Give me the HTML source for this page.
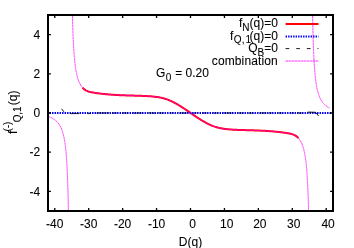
<!DOCTYPE html>
<html><head><meta charset="utf-8"><title>plot</title>
<style>
html,body{margin:0;padding:0;background:#fff;}
svg{display:block}
text{font-family:"Liberation Sans",sans-serif;font-size:12px;fill:#000;stroke:#000;stroke-width:0.08px;}
</style></head><body>
<svg width="354" height="248" viewBox="0 0 354 248">
<rect width="354" height="248" fill="#fff"/>
<defs><clipPath id="c"><rect x="48" y="15" width="285" height="196"/></clipPath><filter id="tf" x="0" y="0" width="354" height="248" filterUnits="userSpaceOnUse"><feGaussianBlur stdDeviation="0.25"/></filter></defs>
<g clip-path="url(#c)" fill="none">
<path d="M82.60,87.69 L83.32,88.44 L84.05,89.10 L84.77,89.66 L85.49,90.14 L86.21,90.55 L86.93,90.90 L87.65,91.20 L88.38,91.45 L89.10,91.68 L89.82,91.87 L90.54,92.05 L91.26,92.21 L91.98,92.35 L92.71,92.48 L93.43,92.61 L94.15,92.72 L94.87,92.84 L95.59,92.94 L96.32,93.05 L97.04,93.15 L97.76,93.25 L98.48,93.35 L99.20,93.45 L99.92,93.54 L100.65,93.63 L101.37,93.71 L102.09,93.79 L102.81,93.88 L103.53,93.95 L104.25,94.03 L104.98,94.10 L105.70,94.17 L106.42,94.24 L107.14,94.31 L107.86,94.37 L108.58,94.43 L109.31,94.49 L110.03,94.55 L110.75,94.60 L111.47,94.66 L112.19,94.71 L112.91,94.76 L113.64,94.81 L114.36,94.85 L115.08,94.90 L115.80,94.94 L116.52,94.98 L117.25,95.02 L117.97,95.06 L118.69,95.09 L119.41,95.13 L120.13,95.16 L120.85,95.19 L121.58,95.23 L122.30,95.26 L123.02,95.28 L123.74,95.31 L124.46,95.34 L125.18,95.36 L125.91,95.39 L126.63,95.41 L127.35,95.44 L128.07,95.46 L128.79,95.48 L129.51,95.50 L130.24,95.52 L130.96,95.55 L131.68,95.57 L132.40,95.58 L133.12,95.60 L133.84,95.62 L134.57,95.64 L135.29,95.66 L136.01,95.68 L136.73,95.70 L137.45,95.72 L138.18,95.74 L138.90,95.76 L139.62,95.78 L140.34,95.81 L141.06,95.83 L141.78,95.86 L142.51,95.89 L143.23,95.91 L143.95,95.94 L144.67,95.98 L145.39,96.01 L146.11,96.05 L146.84,96.09 L147.56,96.13 L148.28,96.17 L149.00,96.22 L149.72,96.26 L150.44,96.32 L151.17,96.37 L151.89,96.43 L152.61,96.50 L153.33,96.57 L154.05,96.64 L154.77,96.72 L155.50,96.81 L156.22,96.90 L156.94,97.00 L157.66,97.11 L158.38,97.23 L159.11,97.35 L159.83,97.49 L160.55,97.63 L161.27,97.79 L161.99,97.95 L162.71,98.12 L163.44,98.31 L164.16,98.51 L164.88,98.72 L165.60,98.94 L166.32,99.17 L167.04,99.42 L167.77,99.68 L168.49,99.96 L169.21,100.25 L169.93,100.55 L170.65,100.86 L171.37,101.19 L172.10,101.53 L172.82,101.89 L173.54,102.25 L174.26,102.62 L174.98,103.01 L175.70,103.40 L176.43,103.81 L177.15,104.22 L177.87,104.64 L178.59,105.07 L179.31,105.51 L180.04,105.95 L180.76,106.40 L181.48,106.86 L182.20,107.32 L182.92,107.79 L183.64,108.26 L184.37,108.74 L185.09,109.22 L185.81,109.70 L186.53,110.19 L187.25,110.68 L187.97,111.17 L188.70,111.66 L189.42,112.16 L190.14,112.65 L190.86,113.15 L191.58,113.64 L192.30,114.14 L193.03,114.63 L193.75,115.12 L194.47,115.61 L195.19,116.10 L195.91,116.58 L196.63,117.06 L197.36,117.54 L198.08,118.01 L198.80,118.48 L199.52,118.94 L200.24,119.40 L200.96,119.85 L201.69,120.29 L202.41,120.73 L203.13,121.16 L203.85,121.58 L204.57,121.99 L205.30,122.40 L206.02,122.79 L206.74,123.18 L207.46,123.55 L208.18,123.91 L208.90,124.27 L209.63,124.61 L210.35,124.94 L211.07,125.25 L211.79,125.55 L212.51,125.84 L213.23,126.12 L213.96,126.38 L214.68,126.63 L215.40,126.86 L216.12,127.08 L216.84,127.29 L217.56,127.49 L218.29,127.68 L219.01,127.85 L219.73,128.01 L220.45,128.17 L221.17,128.31 L221.89,128.45 L222.62,128.57 L223.34,128.69 L224.06,128.80 L224.78,128.90 L225.50,128.99 L226.23,129.08 L226.95,129.16 L227.67,129.23 L228.39,129.30 L229.11,129.37 L229.83,129.43 L230.56,129.48 L231.28,129.54 L232.00,129.58 L232.72,129.63 L233.44,129.67 L234.16,129.71 L234.89,129.75 L235.61,129.79 L236.33,129.82 L237.05,129.86 L237.77,129.89 L238.49,129.91 L239.22,129.94 L239.94,129.97 L240.66,129.99 L241.38,130.02 L242.10,130.04 L242.82,130.06 L243.55,130.08 L244.27,130.10 L244.99,130.12 L245.71,130.14 L246.43,130.16 L247.16,130.18 L247.88,130.20 L248.60,130.22 L249.32,130.23 L250.04,130.25 L250.76,130.28 L251.49,130.30 L252.21,130.32 L252.93,130.34 L253.65,130.36 L254.37,130.39 L255.09,130.41 L255.82,130.44 L256.54,130.46 L257.26,130.49 L257.98,130.52 L258.70,130.54 L259.42,130.57 L260.15,130.61 L260.87,130.64 L261.59,130.67 L262.31,130.71 L263.03,130.74 L263.75,130.78 L264.48,130.82 L265.20,130.86 L265.92,130.90 L266.64,130.95 L267.36,130.99 L268.09,131.04 L268.81,131.09 L269.53,131.14 L270.25,131.20 L270.97,131.25 L271.69,131.31 L272.42,131.37 L273.14,131.43 L273.86,131.49 L274.58,131.56 L275.30,131.63 L276.02,131.70 L276.75,131.77 L277.47,131.85 L278.19,131.92 L278.91,132.01 L279.63,132.09 L280.35,132.17 L281.08,132.26 L281.80,132.35 L282.52,132.45 L283.24,132.55 L283.96,132.65 L284.68,132.75 L285.41,132.86 L286.13,132.96 L286.85,133.08 L287.57,133.19 L288.29,133.32 L289.02,133.45 L289.74,133.59 L290.46,133.75 L291.18,133.93 L291.90,134.12 L292.62,134.35 L293.35,134.60 L294.07,134.90 L294.79,135.25 L295.51,135.66 L296.23,136.14 L296.95,136.70 L297.68,137.36 L298.40,138.11" stroke="#ff0000" stroke-width="2.0" stroke-linejoin="round"/>
<path d="M48,113 H333" stroke="#0000ff" stroke-width="2" stroke-dasharray="1.5 1" stroke-dashoffset="-1.55"/>
<path d="M96.4,113 H109M112,113 H117M122.4,113 H128M132.8,113 H142.7M148.4,113 H155.4M158.6,113 H163.7M170,113 H173.5M179.5,113 H187.2M193.5,113 H196.7M202.4,113 H206.8M213.2,113 H218.3M223.3,113 H232.9M238.6,113 H243.7M248.8,113 H253.5M259.5,113 H266.5M269,113 H272.2M278.6,113 H282.4M290.7,113 H293.8M297,113 H302.6" stroke="#000" stroke-width="1.6" stroke-opacity="0.5"/>
<path d="M70.2,113.6 H79.1 M87.4,113.6 H90.5" stroke="#000" stroke-width="0.9" stroke-opacity="0.9"/>
<path d="M61.6,108.8 L63.9,111.8" stroke="#000" stroke-width="0.9"/>
<path d="M307.7,112.1 L315.6,112.3 L318.6,116" stroke="#000" stroke-width="0.9"/>
<path d="M72.19,3.80 L72.21,4.87 L72.23,5.92 L72.25,6.95 L72.27,7.96 L72.29,8.95 L72.31,9.91 L72.33,10.86 L72.35,11.79 L72.37,12.70 L72.40,13.59 L72.42,14.47 L72.44,15.33 L72.46,16.17 L72.48,17.00 L72.50,17.81 L72.52,18.61 L72.54,19.39 L72.56,20.16 L72.58,20.91 L72.60,21.65 L72.62,22.38 L72.64,23.09 L72.67,23.80 L72.69,24.49 L72.71,25.17 L72.73,25.83 L72.75,26.49 L72.77,27.14 L72.79,27.77 L72.81,28.40 L72.83,29.01 L72.85,29.61 L72.87,30.21 L72.89,30.79 L72.91,31.37 L72.93,31.94 L72.96,32.50 L72.98,33.05 L73.00,33.59 L73.02,34.12 L73.04,34.65 L73.06,35.16 L73.08,35.67 L73.10,36.18 L73.12,36.67 L73.14,37.16 L73.16,37.64 L73.18,38.12 L73.20,38.58 L73.22,39.04 L73.25,39.50 L73.27,39.95 L73.29,40.39 L73.31,40.82 L73.33,41.25 L73.35,41.68 L73.37,42.10 L73.39,42.51 L73.41,42.92 L73.43,43.32 L73.45,43.72 L73.47,44.11 L73.49,44.49 L73.51,44.88 L73.54,45.25 L73.56,45.62 L73.58,45.99 L73.60,46.35 L73.62,46.71 L73.64,47.07 L73.66,47.41 L73.68,47.76 L73.70,48.10 L73.72,48.44 L73.74,48.77 L73.76,49.10 L73.78,49.42 L73.81,49.75 L73.83,50.06 L73.85,50.38 L73.87,50.69 L73.89,50.99 L73.91,51.30 L73.93,51.59 L73.95,51.89 L73.97,52.18 L73.99,52.47 L74.01,52.76 L74.03,53.04 L74.05,53.32 L74.07,53.60 L74.10,53.87 L74.12,54.14 L74.14,54.41 L74.16,54.68 L74.18,54.94 L74.20,55.20 L74.22,55.45 L74.24,55.71 L74.26,55.96 L74.28,56.21 L74.30,56.45 L74.32,56.70 L74.34,56.94 L74.36,57.18 L74.39,57.41 L74.41,57.65 L74.43,57.88 L74.45,58.11 L74.47,58.33 L74.49,58.56 L74.51,58.78 L74.53,59.00 L74.55,59.22 L74.57,59.43 L74.59,59.65 L74.61,59.86 L74.63,60.07 L74.65,60.28 L74.68,60.48 L74.70,60.69 L74.72,60.89 L74.74,61.09 L74.76,61.28 L74.78,61.48 L74.80,61.68 L74.82,61.87 L74.84,62.06 L74.86,62.25 L74.88,62.43 L74.90,62.62 L74.92,62.80 L74.95,62.99 L74.97,63.17 L74.99,63.35 L75.01,63.52 L75.03,63.70 L75.05,63.87 L75.07,64.05 L75.09,64.22 L75.11,64.39 L75.13,64.56 L75.15,64.72 L75.17,64.89 L75.19,65.05 L75.21,65.21 L75.24,65.38 L75.26,65.53 L75.28,65.69 L75.30,65.85 L75.32,66.01 L75.34,66.16 L75.36,66.31 L75.38,66.47 L75.40,66.62 L75.42,66.77 L75.44,66.91 L75.46,67.06 L75.48,67.21 L75.50,67.35 L75.53,67.50 L75.55,67.64 L75.57,67.78 L75.59,67.92 L75.61,68.06 L75.63,68.20 L75.65,68.33 L75.67,68.47 L75.69,68.60 L75.71,68.74 L75.73,68.87 L75.75,69.00 L75.77,69.13 L75.79,69.26 L75.82,69.39 L75.84,69.52 L75.86,69.64 L75.88,69.77 L75.90,69.89 L75.92,70.02 L75.94,70.14 L75.96,70.26 L75.98,70.38 L76.00,70.50 L76.02,70.62 L76.04,70.74 L76.06,70.86 L76.09,70.98 L76.11,71.09 L76.13,71.21 L76.15,71.32 L76.17,71.43 L76.19,71.55 L76.21,71.66 L76.23,71.77 L76.25,71.88 L76.27,71.99 L76.29,72.10 L76.31,72.21 L76.33,72.31 L76.35,72.42 L76.38,72.52 L76.40,72.63 L76.42,72.73 L76.44,72.84 L76.46,72.94 L76.48,73.04 L76.50,73.14 L76.52,73.24 L76.54,73.34 L76.56,73.44 L76.58,73.54 L76.60,73.64 L76.62,73.73 L76.64,73.83 L76.67,73.93 L76.69,74.02 L76.71,74.12 L76.73,74.21 L76.75,74.30 L76.77,74.40 L76.79,74.49 L76.81,74.58 L76.83,74.67 L76.85,74.76 L76.87,74.85 L76.89,74.94 L76.91,75.03 L76.93,75.12 L76.96,75.20 L76.98,75.29 L77.00,75.38 L77.02,75.46 L77.04,75.55 L77.06,75.63 L77.08,75.72 L77.10,75.80 L77.12,75.88 L77.14,75.97 L77.16,76.05 L77.18,76.13 L77.20,76.21 L77.23,76.29 L77.25,76.37 L77.27,76.45 L77.29,76.53 L77.31,76.61 L77.33,76.69 L77.35,76.77 L77.37,76.84 L77.39,76.92 L77.41,77.00 L77.43,77.07 L77.45,77.15 L77.47,77.22 L77.49,77.30 L77.52,77.37 L77.54,77.44 L77.56,77.52 L77.58,77.59 L77.60,77.66 L77.62,77.73 L77.64,77.80 L77.66,77.88 L77.68,77.95 L77.70,78.02 L77.72,78.09 L77.74,78.15 L77.76,78.22 L77.78,78.29 L77.81,78.36 L77.83,78.43 L77.85,78.50 L77.87,78.56 L77.89,78.63 L77.91,78.70 L77.93,78.76 L77.95,78.83 L77.97,78.89 L77.99,78.96 L78.01,79.02 L78.03,79.08 L78.05,79.15 L78.07,79.21 L78.10,79.27 L78.12,79.34 L78.14,79.40 L78.16,79.46 L78.18,79.52 L78.20,79.58 L78.22,79.64 L78.24,79.71 L78.26,79.77 L78.28,79.83 L78.30,79.88 L78.32,79.94 L78.34,80.00 L78.37,80.06 L78.39,80.12 L78.41,80.18 L78.43,80.24 L78.45,80.29 L78.47,80.35 L78.49,80.41 L78.51,80.46 L78.53,80.52 L78.53,80.52 L79.28,82.36 L80.03,83.91 L80.78,85.22 L81.53,86.34 L82.28,87.31 L83.02,88.14 L83.77,88.86 L84.52,89.48 L85.27,90.00 L86.02,90.45 L86.77,90.82 L87.52,91.14 L88.27,91.42 L89.02,91.65 L89.77,91.86 L90.51,92.04 L91.26,92.21 L92.01,92.36 L92.76,92.49 L93.51,92.62 L94.26,92.74 L95.01,92.86 L95.76,92.97 L96.51,93.08 L97.25,93.18 L98.00,93.29 L98.75,93.39 L99.50,93.48 L100.25,93.58 L101.00,93.67 L101.75,93.76 L102.50,93.84 L103.25,93.92 L104.00,94.00 L104.74,94.08 L105.49,94.15 L106.24,94.22 L106.99,94.29 L107.74,94.36 L108.49,94.42 L109.24,94.49 L109.99,94.55 L110.74,94.60 L111.49,94.66 L112.23,94.71 L112.98,94.76 L113.73,94.81 L114.48,94.86 L115.23,94.90 L115.98,94.95 L116.73,94.99 L117.48,95.03 L118.23,95.07 L118.97,95.11 L119.72,95.14 L120.47,95.18 L121.22,95.21 L121.97,95.24 L122.72,95.27 L123.47,95.30 L124.22,95.33 L124.97,95.36 L125.72,95.38 L126.46,95.41 L127.21,95.43 L127.96,95.46 L128.71,95.48 L129.46,95.50 L130.21,95.52 L130.96,95.55 L131.71,95.57 L132.46,95.59 L133.20,95.61 L133.95,95.63 L134.70,95.65 L135.45,95.67 L136.20,95.69 L136.95,95.71 L137.70,95.73 L138.45,95.75 L139.20,95.77 L139.95,95.79 L140.69,95.82 L141.44,95.85 L142.19,95.87 L142.94,95.90 L143.69,95.93 L144.44,95.97 L145.19,96.00 L145.94,96.04 L146.69,96.08 L147.44,96.12 L148.18,96.16 L148.93,96.21 L149.68,96.26 L150.43,96.31 L151.18,96.37 L151.93,96.43 L152.68,96.50 L153.43,96.57 L154.18,96.65 L154.92,96.74 L155.67,96.83 L156.42,96.93 L157.17,97.04 L157.92,97.15 L158.67,97.28 L159.42,97.41 L160.17,97.56 L160.92,97.71 L161.67,97.87 L162.41,98.05 L163.16,98.24 L163.91,98.44 L164.66,98.65 L165.41,98.88 L166.16,99.12 L166.91,99.37 L167.66,99.64 L168.41,99.92 L169.15,100.22 L169.90,100.54 L170.65,100.86 L171.40,101.21 L172.15,101.56 L172.90,101.93 L173.65,102.30 L174.40,102.69 L175.15,103.10 L175.90,103.51 L176.64,103.93 L177.39,104.36 L178.14,104.80 L178.89,105.25 L179.64,105.71 L180.39,106.17 L181.14,106.64 L181.89,107.12 L182.64,107.60 L183.38,108.09 L184.13,108.58 L184.88,109.08 L185.63,109.58 L186.38,110.09 L187.13,110.59 L187.88,111.10 L188.63,111.62 L189.38,112.13 L190.13,112.64 L190.87,113.16 L191.62,113.67 L192.37,114.18 L193.12,114.70 L193.87,115.21 L194.62,115.71 L195.37,116.22 L196.12,116.72 L196.87,117.22 L197.62,117.71 L198.36,118.20 L199.11,118.68 L199.86,119.16 L200.61,119.63 L201.36,120.09 L202.11,120.55 L202.86,121.00 L203.61,121.44 L204.36,121.87 L205.10,122.29 L205.85,122.70 L206.60,123.11 L207.35,123.50 L208.10,123.87 L208.85,124.24 L209.60,124.59 L210.35,124.94 L211.10,125.26 L211.85,125.58 L212.59,125.88 L213.34,126.16 L214.09,126.43 L214.84,126.68 L215.59,126.92 L216.34,127.15 L217.09,127.36 L217.84,127.56 L218.59,127.75 L219.33,127.93 L220.08,128.09 L220.83,128.24 L221.58,128.39 L222.33,128.52 L223.08,128.65 L223.83,128.76 L224.58,128.87 L225.33,128.97 L226.08,129.06 L226.82,129.15 L227.57,129.23 L228.32,129.30 L229.07,129.37 L229.82,129.43 L230.57,129.49 L231.32,129.54 L232.07,129.59 L232.82,129.64 L233.56,129.68 L234.31,129.72 L235.06,129.76 L235.81,129.80 L236.56,129.83 L237.31,129.87 L238.06,129.90 L238.81,129.93 L239.56,129.95 L240.31,129.98 L241.05,130.01 L241.80,130.03 L242.55,130.05 L243.30,130.07 L244.05,130.09 L244.80,130.11 L245.55,130.13 L246.30,130.15 L247.05,130.17 L247.80,130.19 L248.54,130.21 L249.29,130.23 L250.04,130.25 L250.79,130.28 L251.54,130.30 L252.29,130.32 L253.04,130.34 L253.79,130.37 L254.54,130.39 L255.28,130.42 L256.03,130.44 L256.78,130.47 L257.53,130.50 L258.28,130.53 L259.03,130.56 L259.78,130.59 L260.53,130.62 L261.28,130.66 L262.03,130.69 L262.77,130.73 L263.52,130.77 L264.27,130.81 L265.02,130.85 L265.77,130.90 L266.52,130.94 L267.27,130.99 L268.02,131.04 L268.77,131.09 L269.51,131.14 L270.26,131.20 L271.01,131.25 L271.76,131.31 L272.51,131.38 L273.26,131.44 L274.01,131.51 L274.76,131.58 L275.51,131.65 L276.26,131.72 L277.00,131.80 L277.75,131.88 L278.50,131.96 L279.25,132.04 L280.00,132.13 L280.75,132.22 L281.50,132.32 L282.25,132.41 L283.00,132.51 L283.75,132.62 L284.49,132.72 L285.24,132.83 L285.99,132.94 L286.74,133.06 L287.49,133.18 L288.24,133.31 L288.99,133.44 L289.74,133.59 L290.49,133.76 L291.23,133.94 L291.98,134.15 L292.73,134.38 L293.48,134.66 L294.23,134.98 L294.98,135.35 L295.73,135.80 L296.48,136.32 L297.23,136.94 L297.98,137.66 L298.72,138.49 L299.47,139.46 L300.22,140.58 L300.97,141.89 L301.72,143.44 L302.47,145.28 L302.47,145.28 L302.49,145.34 L302.51,145.39 L302.53,145.45 L302.55,145.51 L302.57,145.56 L302.59,145.62 L302.61,145.68 L302.63,145.74 L302.66,145.80 L302.68,145.86 L302.70,145.92 L302.72,145.97 L302.74,146.03 L302.76,146.09 L302.78,146.16 L302.80,146.22 L302.82,146.28 L302.84,146.34 L302.86,146.40 L302.88,146.46 L302.90,146.53 L302.93,146.59 L302.95,146.65 L302.97,146.72 L302.99,146.78 L303.01,146.84 L303.03,146.91 L303.05,146.97 L303.07,147.04 L303.09,147.10 L303.11,147.17 L303.13,147.24 L303.15,147.30 L303.17,147.37 L303.19,147.44 L303.22,147.51 L303.24,147.58 L303.26,147.65 L303.28,147.71 L303.30,147.78 L303.32,147.85 L303.34,147.92 L303.36,148.00 L303.38,148.07 L303.40,148.14 L303.42,148.21 L303.44,148.28 L303.46,148.36 L303.48,148.43 L303.51,148.50 L303.53,148.58 L303.55,148.65 L303.57,148.73 L303.59,148.80 L303.61,148.88 L303.63,148.96 L303.65,149.03 L303.67,149.11 L303.69,149.19 L303.71,149.27 L303.73,149.35 L303.75,149.43 L303.77,149.51 L303.80,149.59 L303.82,149.67 L303.84,149.75 L303.86,149.83 L303.88,149.92 L303.90,150.00 L303.92,150.08 L303.94,150.17 L303.96,150.25 L303.98,150.34 L304.00,150.42 L304.02,150.51 L304.04,150.60 L304.07,150.68 L304.09,150.77 L304.11,150.86 L304.13,150.95 L304.15,151.04 L304.17,151.13 L304.19,151.22 L304.21,151.31 L304.23,151.40 L304.25,151.50 L304.27,151.59 L304.29,151.68 L304.31,151.78 L304.33,151.87 L304.36,151.97 L304.38,152.07 L304.40,152.16 L304.42,152.26 L304.44,152.36 L304.46,152.46 L304.48,152.56 L304.50,152.66 L304.52,152.76 L304.54,152.86 L304.56,152.96 L304.58,153.07 L304.60,153.17 L304.62,153.28 L304.65,153.38 L304.67,153.49 L304.69,153.59 L304.71,153.70 L304.73,153.81 L304.75,153.92 L304.77,154.03 L304.79,154.14 L304.81,154.25 L304.83,154.37 L304.85,154.48 L304.87,154.59 L304.89,154.71 L304.91,154.82 L304.94,154.94 L304.96,155.06 L304.98,155.18 L305.00,155.30 L305.02,155.42 L305.04,155.54 L305.06,155.66 L305.08,155.78 L305.10,155.91 L305.12,156.03 L305.14,156.16 L305.16,156.28 L305.18,156.41 L305.21,156.54 L305.23,156.67 L305.25,156.80 L305.27,156.93 L305.29,157.06 L305.31,157.20 L305.33,157.33 L305.35,157.47 L305.37,157.60 L305.39,157.74 L305.41,157.88 L305.43,158.02 L305.45,158.16 L305.47,158.30 L305.50,158.45 L305.52,158.59 L305.54,158.74 L305.56,158.89 L305.58,159.03 L305.60,159.18 L305.62,159.33 L305.64,159.49 L305.66,159.64 L305.68,159.79 L305.70,159.95 L305.72,160.11 L305.74,160.27 L305.76,160.42 L305.79,160.59 L305.81,160.75 L305.83,160.91 L305.85,161.08 L305.87,161.24 L305.89,161.41 L305.91,161.58 L305.93,161.75 L305.95,161.93 L305.97,162.10 L305.99,162.28 L306.01,162.45 L306.03,162.63 L306.05,162.81 L306.08,163.00 L306.10,163.18 L306.12,163.37 L306.14,163.55 L306.16,163.74 L306.18,163.93 L306.20,164.12 L306.22,164.32 L306.24,164.52 L306.26,164.71 L306.28,164.91 L306.30,165.11 L306.32,165.32 L306.35,165.52 L306.37,165.73 L306.39,165.94 L306.41,166.15 L306.43,166.37 L306.45,166.58 L306.47,166.80 L306.49,167.02 L306.51,167.24 L306.53,167.47 L306.55,167.69 L306.57,167.92 L306.59,168.15 L306.61,168.39 L306.64,168.62 L306.66,168.86 L306.68,169.10 L306.70,169.35 L306.72,169.59 L306.74,169.84 L306.76,170.09 L306.78,170.35 L306.80,170.60 L306.82,170.86 L306.84,171.12 L306.86,171.39 L306.88,171.66 L306.90,171.93 L306.93,172.20 L306.95,172.48 L306.97,172.76 L306.99,173.04 L307.01,173.33 L307.03,173.62 L307.05,173.91 L307.07,174.21 L307.09,174.50 L307.11,174.81 L307.13,175.11 L307.15,175.42 L307.17,175.74 L307.19,176.05 L307.22,176.38 L307.24,176.70 L307.26,177.03 L307.28,177.36 L307.30,177.70 L307.32,178.04 L307.34,178.39 L307.36,178.73 L307.38,179.09 L307.40,179.45 L307.42,179.81 L307.44,180.18 L307.46,180.55 L307.49,180.92 L307.51,181.31 L307.53,181.69 L307.55,182.08 L307.57,182.48 L307.59,182.88 L307.61,183.29 L307.63,183.70 L307.65,184.12 L307.67,184.55 L307.69,184.98 L307.71,185.41 L307.73,185.85 L307.75,186.30 L307.78,186.76 L307.80,187.22 L307.82,187.68 L307.84,188.16 L307.86,188.64 L307.88,189.13 L307.90,189.62 L307.92,190.13 L307.94,190.64 L307.96,191.15 L307.98,191.68 L308.00,192.21 L308.02,192.75 L308.04,193.30 L308.07,193.86 L308.09,194.43 L308.11,195.01 L308.13,195.59 L308.15,196.19 L308.17,196.79 L308.19,197.40 L308.21,198.03 L308.23,198.66 L308.25,199.31 L308.27,199.97 L308.29,200.63 L308.31,201.31 L308.33,202.00 L308.36,202.71 L308.38,203.42 L308.40,204.15 L308.42,204.89 L308.44,205.64 L308.46,206.41 L308.48,207.19 L308.50,207.99 L308.52,208.80 L308.54,209.63 L308.56,210.47 L308.58,211.33 L308.60,212.21 L308.63,213.10 L308.65,214.01 L308.67,214.94 L308.69,215.89 L308.71,216.85 L308.73,217.84 L308.75,218.85 L308.77,219.88 L308.79,220.93 L308.81,222.00" stroke="#ff00ff" stroke-width="0.95" stroke-opacity="0.85" stroke-dasharray="2.6 0.4" stroke-linejoin="round"/>
<path d="M47.99,116.33 L48.34,116.47 L48.69,116.60 L49.04,116.74 L49.39,116.88 L49.73,117.03 L50.08,117.18 L50.43,117.34 L50.78,117.50 L51.13,117.67 L51.47,117.84 L51.82,118.02 L52.17,118.20 L52.52,118.40 L52.87,118.60 L53.21,118.80 L53.56,119.02 L53.91,119.25 L54.26,119.48 L54.61,119.73 L54.95,119.99 L55.30,120.26 L55.65,120.55 L56.00,120.85 L56.35,121.16 L56.69,121.49 L57.04,121.84 L57.39,122.21 L57.74,122.60 L58.09,123.02 L58.43,123.46 L58.78,123.92 L59.13,124.42 L59.48,124.96 L59.83,125.53 L60.17,126.14 L60.52,126.79 L60.87,127.50 L61.22,128.27 L61.57,129.09 L61.57,129.09 L61.59,129.15 L61.61,129.20 L61.63,129.26 L61.65,129.31 L61.67,129.37 L61.70,129.42 L61.72,129.48 L61.74,129.53 L61.76,129.59 L61.78,129.65 L61.81,129.70 L61.83,129.76 L61.85,129.82 L61.87,129.88 L61.89,129.94 L61.91,129.99 L61.94,130.05 L61.96,130.11 L61.98,130.17 L62.00,130.23 L62.02,130.29 L62.05,130.35 L62.07,130.41 L62.09,130.47 L62.11,130.54 L62.13,130.60 L62.15,130.66 L62.18,130.72 L62.20,130.79 L62.22,130.85 L62.24,130.91 L62.26,130.98 L62.28,131.04 L62.31,131.11 L62.33,131.17 L62.35,131.24 L62.37,131.30 L62.39,131.37 L62.42,131.43 L62.44,131.50 L62.46,131.57 L62.48,131.64 L62.50,131.71 L62.52,131.77 L62.55,131.84 L62.57,131.91 L62.59,131.98 L62.61,132.05 L62.63,132.12 L62.65,132.19 L62.68,132.26 L62.70,132.34 L62.72,132.41 L62.74,132.48 L62.76,132.55 L62.79,132.63 L62.81,132.70 L62.83,132.78 L62.85,132.85 L62.87,132.93 L62.89,133.00 L62.92,133.08 L62.94,133.16 L62.96,133.23 L62.98,133.31 L63.00,133.39 L63.02,133.47 L63.05,133.55 L63.07,133.63 L63.09,133.71 L63.11,133.79 L63.13,133.87 L63.16,133.95 L63.18,134.03 L63.20,134.11 L63.22,134.20 L63.24,134.28 L63.26,134.37 L63.29,134.45 L63.31,134.54 L63.33,134.62 L63.35,134.71 L63.37,134.79 L63.40,134.88 L63.42,134.97 L63.44,135.06 L63.46,135.15 L63.48,135.24 L63.50,135.33 L63.53,135.42 L63.55,135.51 L63.57,135.60 L63.59,135.70 L63.61,135.79 L63.63,135.88 L63.66,135.98 L63.68,136.07 L63.70,136.17 L63.72,136.27 L63.74,136.37 L63.77,136.46 L63.79,136.56 L63.81,136.66 L63.83,136.76 L63.85,136.86 L63.87,136.96 L63.90,137.07 L63.92,137.17 L63.94,137.27 L63.96,137.38 L63.98,137.48 L64.00,137.59 L64.03,137.70 L64.05,137.80 L64.07,137.91 L64.09,138.02 L64.11,138.13 L64.14,138.24 L64.16,138.35 L64.18,138.46 L64.20,138.58 L64.22,138.69 L64.24,138.81 L64.27,138.92 L64.29,139.04 L64.31,139.16 L64.33,139.27 L64.35,139.39 L64.37,139.51 L64.40,139.63 L64.42,139.76 L64.44,139.88 L64.46,140.00 L64.48,140.13 L64.51,140.25 L64.53,140.38 L64.55,140.51 L64.57,140.63 L64.59,140.76 L64.61,140.89 L64.64,141.03 L64.66,141.16 L64.68,141.29 L64.70,141.43 L64.72,141.56 L64.75,141.70 L64.77,141.84 L64.79,141.98 L64.81,142.12 L64.83,142.26 L64.85,142.40 L64.88,142.55 L64.90,142.69 L64.92,142.84 L64.94,142.98 L64.96,143.13 L64.98,143.28 L65.01,143.43 L65.03,143.59 L65.05,143.74 L65.07,143.89 L65.09,144.05 L65.12,144.21 L65.14,144.37 L65.16,144.53 L65.18,144.69 L65.20,144.85 L65.22,145.02 L65.25,145.18 L65.27,145.35 L65.29,145.52 L65.31,145.69 L65.33,145.86 L65.35,146.04 L65.38,146.21 L65.40,146.39 L65.42,146.57 L65.44,146.75 L65.46,146.93 L65.49,147.11 L65.51,147.30 L65.53,147.49 L65.55,147.67 L65.57,147.87 L65.59,148.06 L65.62,148.25 L65.64,148.45 L65.66,148.65 L65.68,148.84 L65.70,149.05 L65.72,149.25 L65.75,149.46 L65.77,149.66 L65.79,149.87 L65.81,150.08 L65.83,150.30 L65.86,150.51 L65.88,150.73 L65.90,150.95 L65.92,151.18 L65.94,151.40 L65.96,151.63 L65.99,151.86 L66.01,152.09 L66.03,152.32 L66.05,152.56 L66.07,152.80 L66.10,153.04 L66.12,153.29 L66.14,153.53 L66.16,153.78 L66.18,154.04 L66.20,154.29 L66.23,154.55 L66.25,154.81 L66.27,155.07 L66.29,155.34 L66.31,155.61 L66.33,155.88 L66.36,156.16 L66.38,156.44 L66.40,156.72 L66.42,157.00 L66.44,157.29 L66.47,157.58 L66.49,157.88 L66.51,158.18 L66.53,158.48 L66.55,158.78 L66.57,159.09 L66.60,159.41 L66.62,159.72 L66.64,160.05 L66.66,160.37 L66.68,160.70 L66.70,161.03 L66.73,161.37 L66.75,161.71 L66.77,162.05 L66.79,162.40 L66.81,162.76 L66.84,163.12 L66.86,163.48 L66.88,163.85 L66.90,164.22 L66.92,164.60 L66.94,164.98 L66.97,165.37 L66.99,165.76 L67.01,166.16 L67.03,166.56 L67.05,166.97 L67.07,167.39 L67.10,167.81 L67.12,168.24 L67.14,168.67 L67.16,169.11 L67.18,169.55 L67.21,170.00 L67.23,170.46 L67.25,170.93 L67.27,171.40 L67.29,171.88 L67.31,172.36 L67.34,172.86 L67.36,173.36 L67.38,173.86 L67.40,174.38 L67.42,174.90 L67.45,175.43 L67.47,175.97 L67.49,176.52 L67.51,177.08 L67.53,177.65 L67.55,178.22 L67.58,178.81 L67.60,179.40 L67.62,180.01 L67.64,180.62 L67.66,181.25 L67.68,181.88 L67.71,182.53 L67.73,183.18 L67.75,183.85 L67.77,184.53 L67.79,185.23 L67.82,185.93 L67.84,186.65 L67.86,187.38 L67.88,188.13 L67.90,188.88 L67.92,189.66 L67.95,190.44 L67.97,191.25 L67.99,192.06 L68.01,192.90 L68.03,193.75 L68.05,194.61 L68.08,195.50 L68.10,196.40 L68.12,197.32 L68.14,198.26 L68.16,199.22 L68.19,200.20 L68.21,201.20 L68.23,202.22 L68.25,203.27 L68.27,204.33 L68.29,205.42 L68.32,206.54 L68.34,207.68 L68.36,208.85 L68.38,210.04 L68.40,211.26 L68.42,212.51 L68.45,213.80 L68.47,215.11 L68.49,216.45 L68.51,217.83 L68.53,219.25 L68.56,220.70 L68.58,222.18" stroke="#ff00ff" stroke-width="0.95" stroke-opacity="0.85" stroke-dasharray="2.6 0.4" stroke-linejoin="round"/>
<path d="M312.42,3.62 L312.44,5.10 L312.47,6.55 L312.49,7.97 L312.51,9.35 L312.53,10.69 L312.55,12.00 L312.58,13.29 L312.60,14.54 L312.62,15.76 L312.64,16.95 L312.66,18.12 L312.68,19.26 L312.71,20.38 L312.73,21.47 L312.75,22.53 L312.77,23.58 L312.79,24.60 L312.81,25.60 L312.84,26.58 L312.86,27.54 L312.88,28.48 L312.90,29.40 L312.92,30.30 L312.95,31.19 L312.97,32.05 L312.99,32.90 L313.01,33.74 L313.03,34.55 L313.05,35.36 L313.08,36.14 L313.10,36.92 L313.12,37.67 L313.14,38.42 L313.16,39.15 L313.18,39.87 L313.21,40.57 L313.23,41.27 L313.25,41.95 L313.27,42.62 L313.29,43.27 L313.32,43.92 L313.34,44.55 L313.36,45.18 L313.38,45.79 L313.40,46.40 L313.42,46.99 L313.45,47.58 L313.47,48.15 L313.49,48.72 L313.51,49.28 L313.53,49.83 L313.55,50.37 L313.58,50.90 L313.60,51.42 L313.62,51.94 L313.64,52.44 L313.66,52.94 L313.69,53.44 L313.71,53.92 L313.73,54.40 L313.75,54.87 L313.77,55.34 L313.79,55.80 L313.82,56.25 L313.84,56.69 L313.86,57.13 L313.88,57.56 L313.90,57.99 L313.93,58.41 L313.95,58.83 L313.97,59.24 L313.99,59.64 L314.01,60.04 L314.03,60.43 L314.06,60.82 L314.08,61.20 L314.10,61.58 L314.12,61.95 L314.14,62.32 L314.16,62.68 L314.19,63.04 L314.21,63.40 L314.23,63.75 L314.25,64.09 L314.27,64.43 L314.30,64.77 L314.32,65.10 L314.34,65.43 L314.36,65.75 L314.38,66.08 L314.40,66.39 L314.43,66.71 L314.45,67.02 L314.47,67.32 L314.49,67.62 L314.51,67.92 L314.53,68.22 L314.56,68.51 L314.58,68.80 L314.60,69.08 L314.62,69.36 L314.64,69.64 L314.67,69.92 L314.69,70.19 L314.71,70.46 L314.73,70.73 L314.75,70.99 L314.77,71.25 L314.80,71.51 L314.82,71.76 L314.84,72.02 L314.86,72.27 L314.88,72.51 L314.90,72.76 L314.93,73.00 L314.95,73.24 L314.97,73.48 L314.99,73.71 L315.01,73.94 L315.04,74.17 L315.06,74.40 L315.08,74.62 L315.10,74.85 L315.12,75.07 L315.14,75.29 L315.17,75.50 L315.19,75.72 L315.21,75.93 L315.23,76.14 L315.25,76.34 L315.28,76.55 L315.30,76.75 L315.32,76.96 L315.34,77.15 L315.36,77.35 L315.38,77.55 L315.41,77.74 L315.43,77.93 L315.45,78.13 L315.47,78.31 L315.49,78.50 L315.51,78.69 L315.54,78.87 L315.56,79.05 L315.58,79.23 L315.60,79.41 L315.62,79.59 L315.65,79.76 L315.67,79.94 L315.69,80.11 L315.71,80.28 L315.73,80.45 L315.75,80.62 L315.78,80.78 L315.80,80.95 L315.82,81.11 L315.84,81.27 L315.86,81.43 L315.88,81.59 L315.91,81.75 L315.93,81.91 L315.95,82.06 L315.97,82.21 L315.99,82.37 L316.02,82.52 L316.04,82.67 L316.06,82.82 L316.08,82.96 L316.10,83.11 L316.12,83.25 L316.15,83.40 L316.17,83.54 L316.19,83.68 L316.21,83.82 L316.23,83.96 L316.25,84.10 L316.28,84.24 L316.30,84.37 L316.32,84.51 L316.34,84.64 L316.36,84.77 L316.39,84.91 L316.41,85.04 L316.43,85.17 L316.45,85.29 L316.47,85.42 L316.49,85.55 L316.52,85.67 L316.54,85.80 L316.56,85.92 L316.58,86.04 L316.60,86.17 L316.63,86.29 L316.65,86.41 L316.67,86.53 L316.69,86.64 L316.71,86.76 L316.73,86.88 L316.76,86.99 L316.78,87.11 L316.80,87.22 L316.82,87.34 L316.84,87.45 L316.86,87.56 L316.89,87.67 L316.91,87.78 L316.93,87.89 L316.95,88.00 L316.97,88.10 L317.00,88.21 L317.02,88.32 L317.04,88.42 L317.06,88.53 L317.08,88.63 L317.10,88.73 L317.13,88.84 L317.15,88.94 L317.17,89.04 L317.19,89.14 L317.21,89.24 L317.23,89.34 L317.26,89.43 L317.28,89.53 L317.30,89.63 L317.32,89.73 L317.34,89.82 L317.37,89.92 L317.39,90.01 L317.41,90.10 L317.43,90.20 L317.45,90.29 L317.47,90.38 L317.50,90.47 L317.52,90.56 L317.54,90.65 L317.56,90.74 L317.58,90.83 L317.60,90.92 L317.63,91.01 L317.65,91.09 L317.67,91.18 L317.69,91.26 L317.71,91.35 L317.74,91.43 L317.76,91.52 L317.78,91.60 L317.80,91.69 L317.82,91.77 L317.84,91.85 L317.87,91.93 L317.89,92.01 L317.91,92.09 L317.93,92.17 L317.95,92.25 L317.98,92.33 L318.00,92.41 L318.02,92.49 L318.04,92.57 L318.06,92.64 L318.08,92.72 L318.11,92.80 L318.13,92.87 L318.15,92.95 L318.17,93.02 L318.19,93.10 L318.21,93.17 L318.24,93.25 L318.26,93.32 L318.28,93.39 L318.30,93.46 L318.32,93.54 L318.35,93.61 L318.37,93.68 L318.39,93.75 L318.41,93.82 L318.43,93.89 L318.45,93.96 L318.48,94.03 L318.50,94.09 L318.52,94.16 L318.54,94.23 L318.56,94.30 L318.58,94.37 L318.61,94.43 L318.63,94.50 L318.65,94.56 L318.67,94.63 L318.69,94.69 L318.72,94.76 L318.74,94.82 L318.76,94.89 L318.78,94.95 L318.80,95.01 L318.82,95.08 L318.85,95.14 L318.87,95.20 L318.89,95.26 L318.91,95.33 L318.93,95.39 L318.95,95.45 L318.98,95.51 L319.00,95.57 L319.02,95.63 L319.04,95.69 L319.06,95.75 L319.09,95.81 L319.11,95.86 L319.13,95.92 L319.15,95.98 L319.17,96.04 L319.19,96.10 L319.22,96.15 L319.24,96.21 L319.26,96.27 L319.28,96.32 L319.30,96.38 L319.33,96.43 L319.35,96.49 L319.37,96.54 L319.39,96.60 L319.41,96.65 L319.43,96.71 L319.43,96.71 L319.69,97.33 L319.96,97.92 L320.22,98.48 L320.48,99.01 L320.74,99.50 L321.00,99.97 L321.26,100.42 L321.52,100.84 L321.78,101.25 L322.04,101.63 L322.31,102.00 L322.57,102.34 L322.83,102.68 L323.09,102.99 L323.35,103.30 L323.61,103.59 L323.87,103.87 L324.13,104.14 L324.39,104.39 L324.65,104.64 L324.91,104.88 L325.18,105.11 L325.44,105.33 L325.70,105.54 L325.96,105.74 L326.22,105.94 L326.48,106.13 L326.74,106.32 L327.00,106.49 L327.26,106.67 L327.52,106.83 L327.79,107.00 L328.05,107.15 L328.31,107.30 L328.57,107.45 L328.83,107.60 L329.09,107.74 L329.35,107.87 L329.61,108.00" stroke="#ff00ff" stroke-width="0.95" stroke-opacity="0.85" stroke-dasharray="2.6 0.4" stroke-linejoin="round"/>
</g>
<!-- legend samples -->
<g fill="none">
<path d="M285.6,24 H318.5" stroke="#ff0000" stroke-width="2.2"/>
<path d="M285.6,36.45 H318.5" stroke="#0000ff" stroke-width="2.1" stroke-dasharray="1.4 1.1"/>
<path d="M285.6,48.6 H318.5" stroke="#000" stroke-width="0.9" stroke-dasharray="3.7 6.93"/>
<path d="M285.6,61 H318.5" stroke="#ff00ff" stroke-width="0.95" stroke-opacity="0.85" stroke-dasharray="2.6 0.4"/>
</g>
<rect x="48" y="15" width="285" height="196" fill="none" stroke="#000" stroke-width="2"/>
<g stroke="#000" stroke-width="1.3" fill="none"><path d="M54.78,211 V208.1 M54.78,15 V17.9"/><path d="M88.71,211 V208.1 M88.71,15 V17.9"/><path d="M122.64,211 V208.1 M122.64,15 V17.9"/><path d="M156.57,211 V208.1 M156.57,15 V17.9"/><path d="M190.50,211 V208.1 M190.50,15 V17.9"/><path d="M224.43,211 V208.1 M224.43,15 V17.9"/><path d="M258.36,211 V208.1 M258.36,15 V17.9"/><path d="M292.29,211 V208.1 M292.29,15 V17.9"/><path d="M326.22,211 V208.1 M326.22,15 V17.9"/><path d="M48,191.40 H50.9 M333,191.40 H330.1"/><path d="M48,152.20 H50.9 M333,152.20 H330.1"/><path d="M48,113.00 H50.9 M333,113.00 H330.1"/><path d="M48,73.80 H50.9 M333,73.80 H330.1"/><path d="M48,34.60 H50.9 M333,34.60 H330.1"/></g>
<g filter="url(#tf)">
<text x="54.78" y="227.8" text-anchor="middle">-40</text><text x="88.71" y="227.8" text-anchor="middle">-30</text><text x="122.64" y="227.8" text-anchor="middle">-20</text><text x="156.57" y="227.8" text-anchor="middle">-10</text><text x="192.50" y="227.8" text-anchor="middle">0</text><text x="226.73" y="227.8" text-anchor="middle">10</text><text x="259.86" y="227.8" text-anchor="middle">20</text><text x="293.79" y="227.8" text-anchor="middle">30</text><text x="328.12" y="227.8" text-anchor="middle">40</text>
<text x="40.2" y="195.60" text-anchor="end">-4</text><text x="40.2" y="156.40" text-anchor="end">-2</text><text x="40.2" y="117.20" text-anchor="end">0</text><text x="40.2" y="78.00" text-anchor="end">2</text><text x="40.2" y="38.80" text-anchor="end">4</text>
<text x="190.5" y="246.2" text-anchor="middle">D(q)</text>
<text x="156.1" y="77.2">G<tspan font-size="10" dy="3.3" dx="0.3">0</tspan><tspan dy="-3.3" dx="0.5"> = 0.20</tspan></text>
<text x="277.9" y="27" text-anchor="end">f<tspan font-size="10" dy="3.8">N</tspan><tspan dy="-3.8">(q)=0</tspan></text>
<text x="277.9" y="39.5" text-anchor="end">f<tspan font-size="10" dy="3.8" dx="0.4 0.2 1.0">Q,1</tspan><tspan dy="-3.8" dx="-1.6">(q)=0</tspan></text>
<text x="277.9" y="52" text-anchor="end">Q<tspan font-size="10" dy="4">B</tspan><tspan dy="-4">=0</tspan></text>
<text x="277.9" y="64.9" text-anchor="end" letter-spacing="0.13">combination</text>
<text transform="translate(16.9,133.9) rotate(-90)">f<tspan font-size="10" dy="-5.5" dx="-1.0">(-)</tspan><tspan font-size="10" dy="9.3" dx="-0.7 -0.3 0.1">Q,1</tspan><tspan dy="-3.8" dx="1.2">(q)</tspan></text>
</g>
</svg>
</body></html>
